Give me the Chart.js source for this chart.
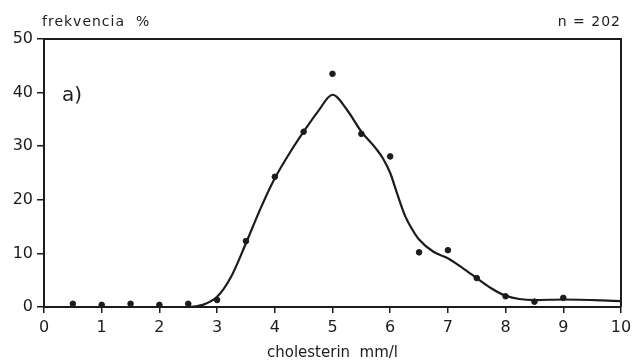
<!DOCTYPE html>
<html>
<head>
<meta charset="utf-8">
<script src="https://cdn.jsdelivr.net/npm/chart.js@4/dist/chart.umd.min.js"></script>
<style>
    html, body { margin: 0; padding: 0; background: #fff; }
    #wrap { width: 632px; height: 362px; position: relative; }
</style>
</head>
<body>
<div id="wrap"><canvas id="cholChart"></canvas></div>
<script>
// Measured points (frekvencia %)
const dotX = [0.5, 1, 1.5, 2, 2.5, 3, 3.5, 4, 4.5, 5, 5.5, 6, 6.5, 7, 7.5, 8, 8.5, 9];
const dotY = [0.6, 0.4, 0.6, 0.4, 0.6, 1.3, 12.3, 24.3, 32.7, 43.5, 32.3, 28.1, 10.2, 10.6, 5.4, 2.0, 1.0, 1.7];

// Smoothed curve
const curveX = [0, 2.5, 2.75, 3.0, 3.25, 3.5, 3.75, 4.0, 4.25, 4.5, 4.75, 5.0, 5.25, 5.5, 5.75, 5.875, 6.0, 6.125, 6.25, 6.375, 6.5, 6.75, 7.0, 7.25, 7.5, 7.75, 8.0, 8.5, 9.0, 10.0];
const curveY = [0, 0, 0.4, 1.9, 5.8, 11.9, 18.3, 24.0, 28.6, 32.7, 36.5, 39.6, 36.8, 32.7, 29.6, 27.7, 25.0, 21.0, 17.2, 14.6, 12.6, 10.3, 9.1, 7.3, 5.4, 3.5, 2.1, 1.3, 1.4, 1.1];

const xTicks = [0, 1, 2, 3, 4, 5, 6, 7, 8, 9, 10];
const yTicks = [0, 10, 20, 30, 40, 50];

const ink = '#1c1c1c';
const font = 'DejaVu Sans';

const toXY = (xs, ys) => xs.map((x, i) => ({ x: x, y: ys[i] }));

// Frame + free text labels
const framePlugin = {
    id: 'frame',
    afterDraw(chart) {
        const { ctx, chartArea: a } = chart;
        ctx.save();
        ctx.strokeStyle = ink;
        ctx.lineWidth = 2;
        ctx.beginPath();
        ctx.moveTo(a.left, a.top);
        ctx.lineTo(a.right, a.top);
        ctx.lineTo(a.right, a.bottom);
        ctx.stroke();

        ctx.fillStyle = ink;
        ctx.textBaseline = 'alphabetic';
        ctx.letterSpacing = '1px';
        ctx.font = '14px "' + font + '"';
        ctx.textAlign = 'left';
        ctx.fillText('frekvencia  %', 42, 26);
        ctx.textAlign = 'right';
        ctx.fillText('n = 202', 621, 26);
        ctx.letterSpacing = '0px';
        ctx.font = '20px "' + font + '"';
        ctx.textAlign = 'left';
        ctx.fillText('a)', 62, 101);
        ctx.restore();
    }
};

new Chart(document.getElementById('cholChart'), {
    type: 'scatter',
    data: {
        datasets: [{
            type: 'line',
            data: toXY(curveX, curveY),
            borderColor: ink,
            borderWidth: 2.2,
            pointRadius: 0,
            cubicInterpolationMode: 'monotone',
            fill: false
        }, {
            data: toXY(dotX, dotY),
            backgroundColor: ink,
            borderColor: ink,
            pointRadius: 2.8
        }]
    },
    options: {
        responsive: true,
        maintainAspectRatio: false,
        animation: false,
        layout: { padding: { top: 39, right: 11, left: 0, bottom: 0 } },
        plugins: {
            legend: { display: false },
            tooltip: { enabled: false }
        },
        scales: {
            x: {
                type: 'linear',
                min: 0,
                max: 10,
                afterBuildTicks: s => { s.ticks = xTicks.map(v => ({ value: v })); },
                afterFit: s => { s.height = 55; s.paddingRight = 0; s.paddingLeft = 0; },
                grid: { drawOnChartArea: false, drawTicks: true, tickLength: 6, color: ink, lineWidth: 1.5 },
                border: { display: true, color: ink, width: 2 },
                ticks: { color: ink, font: { family: font, size: 16 }, padding: 5, maxRotation: 0 },
                title: { display: true, text: 'cholesterin  mm/l', color: ink, font: { family: font, size: 15 }, padding: { top: 0, bottom: 0 } }
            },
            y: {
                min: 0,
                max: 50,
                afterBuildTicks: s => { s.ticks = yTicks.map(v => ({ value: v })); },
                afterFit: s => { s.width = 44; },
                grid: { drawOnChartArea: false, drawTicks: true, tickLength: 7, color: ink, lineWidth: 1.5 },
                border: { display: true, color: ink, width: 2 },
                ticks: { color: ink, font: { family: font, size: 16 }, padding: 4 }
            }
        }
    },
    plugins: [framePlugin]
});
</script>
</body>
</html>
